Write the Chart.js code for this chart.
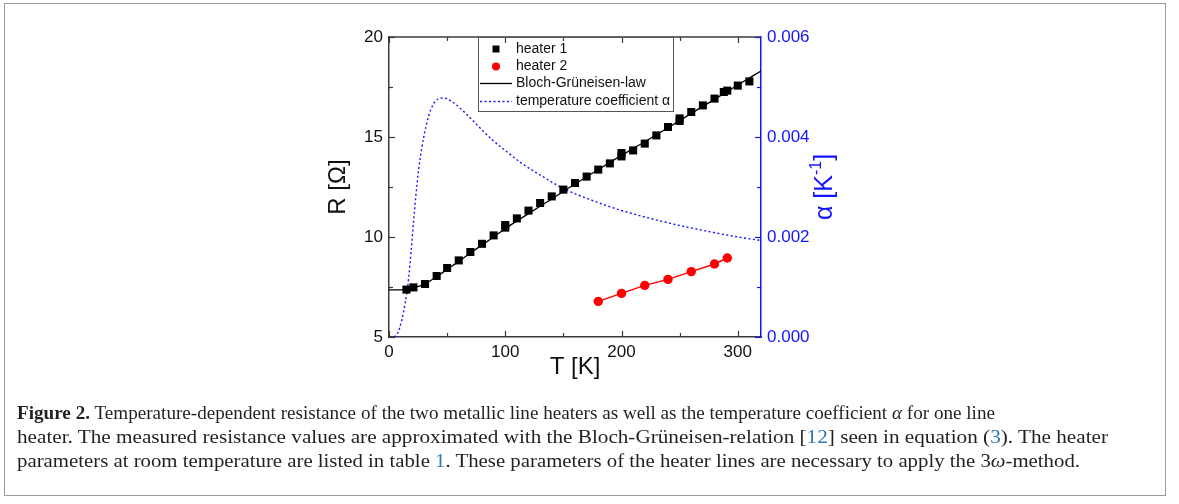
<!DOCTYPE html>
<html><head><meta charset="utf-8">
<script src="https://cdn.jsdelivr.net/npm/chart.js@4"></script>
<style>
html,body{margin:0;padding:0;background:#fff;}
#wrap{position:relative;width:1179px;height:504px;overflow:hidden;background:#fff;}
#frame{position:absolute;left:4px;top:3px;width:1162px;height:493px;border:1px solid #9a9a9a;box-sizing:border-box;}
canvas{position:absolute;left:0;top:0;}
.cap{position:absolute;left:17px;white-space:nowrap;font-family:"Liberation Serif","DejaVu Serif",serif;font-size:19px;line-height:24px;color:#231f20;transform-origin:0 50%;}
.ref{color:#2a7ab8;}
</style></head>
<body><div id="wrap"><div id="frame"></div><canvas id="c" width="1179" height="504"></canvas>
<div class="cap" id="l1" data-w="978" style="top:401px"><b>Figure 2.</b> Temperature-dependent resistance of the two metallic line heaters as well as the temperature coefficient <i>α</i> for one line</div>
<div class="cap" id="l2" data-w="1091" style="top:425px">heater. The measured resistance values are approximated with the Bloch-Grüneisen-relation [<span class="ref">12</span>] seen in equation (<span class="ref">3</span>). The heater</div>
<div class="cap" id="l3" data-w="1063" style="top:449px">parameters at room temperature are listed in table <span class="ref">1</span>. These parameters of the heater lines are necessary to apply the 3<i>ω</i>-method.</div>
</div>
<script>
// ---- data ----
const heater1T = [15,21,31,41,50,60,70,80,90,100,100,110,120,130,140,150,160,170,180,190,200,200,210,220,230,240,250,250,260,270,280,288,291,300,310];
const heater1R = [7.37,7.48,7.65,8.05,8.45,8.83,9.25,9.66,10.08,10.47,10.6,10.93,11.32,11.7,12.03,12.37,12.7,13.02,13.37,13.68,14.03,14.2,14.33,14.67,15.08,15.5,15.8,15.93,16.25,16.58,16.92,17.25,17.32,17.57,17.78];
const heater2T = [180,200,220,240,260,280,291];
const heater2R = [6.78,7.18,7.58,7.88,8.27,8.65,8.95];
const blochT = [0,10,15,20,30,40,50,60,70,80,90,100,120,140,160,180,200,220,240,260,280,300,320];
const blochR = [7.36,7.36,7.38,7.44,7.63,7.98,8.38,8.78,9.2,9.6,10.0,10.42,11.17,11.9,12.65,13.37,14.08,14.76,15.46,16.18,16.88,17.6,18.3];
const alphaT = [4.5,7,9,11,13,15,17,19,21,23,25.5,28,30,34,38,42,47,54,61,70,80,90,100,115,130,150,175,200,225,250,275,300,320];
const alphaV = [0,0.00006,0.00017,0.00034,0.00056,0.00083,0.0012,0.0017,0.00228,0.0028,0.00335,0.00375,0.00401,0.00441,0.00465,0.00476,0.00478,0.00471,0.00458,0.00438,0.00414,0.00392,0.00373,0.00346,0.00324,0.00297,0.00273,0.00253,0.00237,0.00223,0.00211,0.002,0.00193];
const xTickValues = [0,100,200,300];
const yTickValues = [5,10,15,20];
const y2TickValues = [0,0.002,0.004,0.006];
const seriesLabels = ['heater 1','heater 2','Bloch-Grüneisen-law','temperature coefficient α'];

const pts = (xs, ys) => xs.map((x,i)=>({x:x, y:ys[i]}));
const BLUE = '#1414ff';
const AXIS = '#3a3a3a';
const FONT = 'Arial, "Liberation Sans", sans-serif';

const overlay = {
  id:'overlay',
  afterDraw(chart){
    const ctx = chart.ctx;
    const xs = chart.scales.x, ys = chart.scales.y, y2 = chart.scales.y2;
    const a = chart.chartArea;
    ctx.save();
    // top border
    ctx.strokeStyle = AXIS; ctx.lineWidth = 1.5;
    ctx.beginPath(); ctx.moveTo(a.left, a.top); ctx.lineTo(a.right, a.top); ctx.stroke();
    // x ticks bottom & top (inward)
    ctx.lineWidth = 1.2;
    for (let v=0; v<=320; v+=50){
      const px = Math.round(xs.getPixelForValue(v))+0.5;
      const L = (v%100===0)?6:4;
      ctx.beginPath(); ctx.moveTo(px, a.bottom); ctx.lineTo(px, a.bottom-L); ctx.stroke();
      ctx.beginPath(); ctx.moveTo(px, a.top); ctx.lineTo(px, a.top+L); ctx.stroke();
    }
    // left ticks (inward)
    for (let v=5; v<=20; v+=2.5){
      const py = Math.round(ys.getPixelForValue(v))+0.5;
      const L = (v%5===0)?6:4;
      ctx.beginPath(); ctx.moveTo(a.left, py); ctx.lineTo(a.left+L, py); ctx.stroke();
    }
    // right ticks (inward, blue)
    ctx.strokeStyle = BLUE;
    for (let k=0; k<=6; k++){
      const v = k*0.001;
      const py = Math.round(y2.getPixelForValue(v))+0.5;
      const L = (k%2===0)?6:4;
      ctx.beginPath(); ctx.moveTo(a.right, py); ctx.lineTo(a.right-L, py); ctx.stroke();
    }
    // right axis title, rotated -90
    ctx.save();
    ctx.translate(823, 187);
    ctx.rotate(-Math.PI/2);
    ctx.fillStyle = BLUE;
    ctx.textBaseline = 'alphabetic';
    const f1 = '25px ' + FONT, f2 = '16px ' + FONT;
    ctx.font = f1; const w1 = ctx.measureText('α [K').width; const w3 = ctx.measureText(']').width;
    ctx.font = f2; const w2 = ctx.measureText('-1').width;
    let x0 = -(w1+w2+w3)/2;
    ctx.font = f1; ctx.fillText('α [K', x0, 9);
    ctx.font = f2; ctx.fillText('-1', x0+w1, -2);
    ctx.font = f1; ctx.fillText(']', x0+w1+w2, 9);
    ctx.restore();
    // legend
    ctx.strokeStyle = '#555'; ctx.lineWidth = 1;
    ctx.strokeRect(478.5, 37.5, 195, 74);
    const rows = [49, 66.5, 83.5, 101.5];
    ctx.font = '14px ' + FONT; ctx.textBaseline = 'middle'; ctx.textAlign='left';
    chart.data.datasets.forEach((ds, i) => {
      const y = rows[i];
      if (i===0){ ctx.fillStyle = ds.backgroundColor; ctx.fillRect(492.5, y-3.5, 7, 7); }
      if (i===1){ ctx.fillStyle = ds.backgroundColor; ctx.beginPath(); ctx.arc(496, y, 4, 0, Math.PI*2); ctx.fill(); }
      if (i===2){ ctx.strokeStyle = ds.borderColor; ctx.lineWidth = 1.3; ctx.setLineDash([]); ctx.beginPath(); ctx.moveTo(480, y); ctx.lineTo(512, y); ctx.stroke(); }
      if (i===3){ ctx.strokeStyle = ds.borderColor; ctx.lineWidth = 1.4; ctx.setLineDash(ds.borderDash); ctx.beginPath(); ctx.moveTo(480, y); ctx.lineTo(512, y); ctx.stroke(); ctx.setLineDash([]); }
      ctx.fillStyle = '#111';
      ctx.fillText(ds.label, 516, y);
    });
    ctx.restore();
  }
};

new Chart(document.getElementById('c'), {
  type: 'scatter',
  data: { datasets: [
    { label: seriesLabels[0], data: pts(heater1T, heater1R), backgroundColor:'#000', borderColor:'#000', pointStyle:'rect', pointRadius:5.7, pointBorderWidth:0, showLine:false, yAxisID:'y' },
    { label: seriesLabels[1], data: pts(heater2T, heater2R), backgroundColor:'#ff0000', borderColor:'#ff0000', pointStyle:'circle', pointRadius:4.7, pointBorderWidth:0, showLine:true, borderWidth:1.4, yAxisID:'y' },
    { label: seriesLabels[2], data: pts(blochT, blochR), borderColor:'#000', backgroundColor:'#000', pointRadius:0, showLine:true, borderWidth:1.3, cubicInterpolationMode:'monotone', yAxisID:'y' },
    { label: seriesLabels[3], data: pts(alphaT, alphaV), borderColor:BLUE, backgroundColor:BLUE, pointRadius:0, showLine:true, borderWidth:1.4, borderDash:[2,2.5], cubicInterpolationMode:'monotone', yAxisID:'y2' }
  ]},
  options: {
    responsive:false, animation:false, devicePixelRatio:1,
    layout:{ padding:{ top:37, left:0, right:0, bottom:0 } },
    plugins:{ legend:{display:false}, tooltip:{enabled:false} },
    scales:{
      x:{ type:'linear', position:'bottom', min:0, max:320,
        afterBuildTicks: s => { s.ticks = xTickValues.map(v=>({value:v})); },
        afterFit: s => { s.height = 167; },
        grid:{ display:false, drawTicks:false },
        border:{ display:true, color:AXIS, width:1.5 },
        ticks:{ color:'#111', font:{ family:FONT, size:17 }, padding:5, maxRotation:0, autoSkip:false },
        title:{ display:true, text:'T [K]', color:'#111', font:{ family:FONT, size:24 }, padding:{ top:0, bottom:122 } }
      },
      y:{ type:'linear', position:'left', min:5, max:20,
        afterBuildTicks: s => { s.ticks = yTickValues.map(v=>({value:v})); },
        afterFit: s => { s.width = 389; },
        grid:{ display:false, drawTicks:false },
        border:{ display:true, color:AXIS, width:1.5 },
        ticks:{ color:'#111', font:{ family:FONT, size:17 }, padding:6 },
        title:{ display:true, text:'R [Ω]', color:'#111', font:{ family:FONT, size:24 }, padding:{ top:324, bottom:0 } }
      },
      y2:{ type:'linear', position:'right', min:0, max:0.006,
        afterBuildTicks: s => { s.ticks = y2TickValues.map(v=>({value:v})); },
        afterFit: s => { s.width = 418; },
        grid:{ display:false, drawTicks:false },
        border:{ display:true, color:BLUE, width:1.5 },
        ticks:{ color:BLUE, font:{ family:FONT, size:17 }, padding:6, callback: v => Number(v).toFixed(3) },
        title:{ display:false }
      }
    }
  },
  plugins:[overlay]
});

function fitCaption(){
  document.querySelectorAll('.cap').forEach(el => {
    el.style.transform = 'none';
    const w = el.getBoundingClientRect().width;
    const target = parseFloat(el.dataset.w);
    el.style.transform = 'scaleX(' + (target / w) + ')';
  });
}
fitCaption();
window.addEventListener('load', fitCaption);
</script>
</body></html>
